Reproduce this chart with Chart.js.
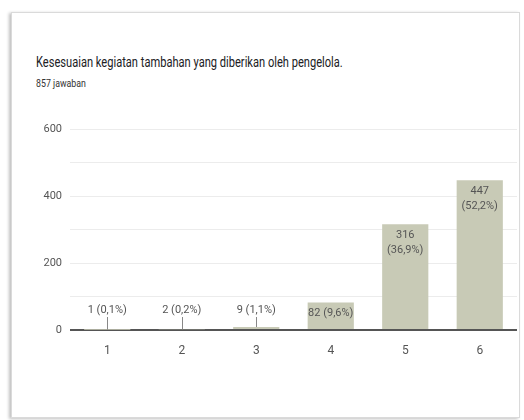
<!DOCTYPE html>
<html>
<head>
<meta charset="utf-8">
<script src="https://cdn.jsdelivr.net/npm/chart.js@4"></script>
<style>
  body { margin:0; width:524px; height:420px; background:#fff; overflow:hidden; font-family:Roboto,sans-serif; }
  .card { position:absolute; left:11px; top:12px; width:507px; height:404px; border:1px solid #dadada; box-shadow:-2px 1px 3px rgba(0,0,0,0.25); background:#fff; }
  .title { position:absolute; left:36px; top:53px; font-size:15px; color:#202124; white-space:nowrap; transform:scaleX(0.74); transform-origin:0 50%; }
  .sub { position:absolute; left:36px; top:77px; font-size:11px; color:#333; white-space:nowrap; transform:scaleX(0.8); transform-origin:0 50%; }
  .wrap { position:absolute; left:0; top:100px; width:524px; height:270px; }
</style>
</head>
<body>
<div class="card"></div>
<div class="title">Kesesuaian kegiatan tambahan yang diberikan oleh pengelola.</div>
<div class="sub">857 jawaban</div>
<div class="wrap"><canvas id="c"></canvas></div>
<script>
const categories = ['1', '2', '3', '4', '5', '6'];
const counts = [1, 2, 9, 82, 316, 447];
const percents = ['0,1%', '0,2%', '1,1%', '9,6%', '36,9%', '52,2%'];
const yTicks = [0, 200, 400, 600];

const labelFont = "11px Roboto, sans-serif";

// value labels: above the bar with a leader line when the bar is short,
// inside the bar otherwise (split into two lines if too wide)
const barLabels = {
  id: 'barLabels',
  afterDatasetsDraw(chart) {
    const ctx = chart.ctx;
    const meta = chart.getDatasetMeta(0);
    ctx.save();
    ctx.font = labelFont;
    ctx.fillStyle = '#555';
    ctx.textAlign = 'center';
    ctx.textBaseline = 'middle';
    meta.data.forEach((bar, i) => {
      const text = counts[i] + ' (' + percents[i] + ')';
      const h = bar.base - bar.y;
      if (h < 20) {
        const x = Math.round(bar.x) + 0.5;
        ctx.strokeStyle = '#888';
        ctx.lineWidth = 1;
        ctx.beginPath();
        ctx.moveTo(x, bar.y);
        ctx.lineTo(x, bar.base - 12);
        ctx.stroke();
        ctx.fillText(text, bar.x, bar.base - 19);
      } else if (ctx.measureText(text).width < bar.width) {
        ctx.fillText(text, bar.x, bar.y + 11);
      } else {
        ctx.fillText(String(counts[i]), bar.x, bar.y + 11);
        ctx.fillText('(' + percents[i] + ')', bar.x, bar.y + 26);
      }
    });
    ctx.restore();
  }
};

new Chart(document.getElementById('c'), {
  type: 'bar',
  data: {
    labels: categories,
    datasets: [{ data: counts, backgroundColor: '#c8cab6', barPercentage: 0.62, categoryPercentage: 1 }]
  },
  options: {
    responsive: true,
    maintainAspectRatio: false,
    animation: false,
    layout: { padding: { top: 29, right: 7, left: 0, bottom: 0 } },
    plugins: { legend: { display: false }, tooltip: { enabled: false } },
    scales: {
      x: {
        grid: { display: false },
        border: { display: false },
        ticks: { color: '#555', font: { family: 'Roboto, sans-serif', size: 12 }, padding: 6 },
        afterFit: s => { s.height = 40; }
      },
      y: {
        min: 0, max: 600,
        grid: {
          color: c => c.tick.value === 0 ? '#555' : '#ececec',
          lineWidth: c => c.tick.value === 0 ? 2 : 1,
          drawTicks: false
        },
        border: { display: false },
        ticks: {
          stepSize: 100,
          color: '#555',
          padding: 8,
          font: { family: 'Roboto, sans-serif', size: 11 },
          callback: v => yTicks.includes(v) ? v : ''
        },
        afterFit: s => { s.width = 70; }
      }
    }
  },
  plugins: [barLabels]
});
</script>
</body>
</html>
